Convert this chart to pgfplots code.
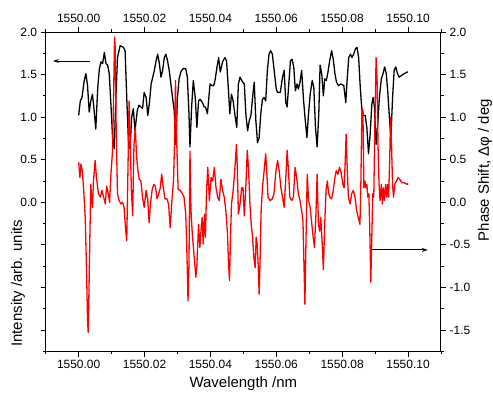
\documentclass[border=0pt]{standalone}
\usepackage{pgfplots}
\pgfplotsset{compat=1.18}
\usepackage{fontspec}
\setmainfont{Liberation Sans}
\usetikzlibrary{arrows.meta}
\begin{document}
\begin{tikzpicture}
\pgfplotsset{
 common/.style={
  scale only axis, width=395bp, height=319bp,
  xmin=1549.99, xmax=1550.11, ymin=-1.75, ymax=2,
  xtick={1550.00,1550.02,1550.04,1550.06,1550.08,1550.10},
  minor xtick={1549.99,1550.01,1550.03,1550.05,1550.07,1550.09,1550.11},
  ytick={-1.5,-1,-0.5,0,0.5,1,1.5,2},
  minor ytick={-1.75,-1.25,-0.75,-0.25,0.25,0.75,1.25,1.75},
  tick align=outside,
  major tick length=5.5bp, minor tick length=3bp,
  tick style={black, line width=0.8pt},
  axis line style={line width=1pt},
  x tick label style={/pgf/number format/.cd, fixed, fixed zerofill, precision=2, 1000 sep={}, /tikz/.cd},
  y tick label style={/pgf/number format/.cd, fixed, fixed zerofill, precision=1, /tikz/.cd},
  /pgf/number format/assume math mode=true,
  tick label style={font=\fontsize{12}{14}\selectfont},
  label style={font=\fontsize{15}{17}\selectfont},
  clip=false,
 }
}
\begin{axis}[common, name=main,
  xtick pos=left, ytick pos=left,
  yticklabels={,,,0.0,0.5,1.0,1.5,2.0},
  xlabel={Wavelength /nm},
  xlabel style={at={([yshift=-32bp]axis description cs:0.5,0)}, anchor=center},
  ylabel={Intensity /arb. units},
  ylabel style={at={([xshift=-27.7bp]axis description cs:0,0.213)}, anchor=center},
]
\addplot[black, line width=1.3pt, line join=round] coordinates {
(1550.0000,1.02)(1550.0005,1.19)(1550.0010,1.23)(1550.0017,1.43)(1550.0022,1.51)(1550.0027,1.37)(1550.0032,1.06)(1550.0037,1.19)(1550.0042,1.27)(1550.0047,1.08)(1550.0052,0.86)(1550.0058,1.35)(1550.0063,1.57)(1550.0068,1.65)(1550.0073,1.63)(1550.0078,1.76)(1550.0083,1.63)(1550.0088,1.61)(1550.0093,1.51)(1550.0098,1.15)(1550.0103,0.76)(1550.0108,0.63)(1550.0113,1.23)(1550.0118,1.70)(1550.0126,1.84)(1550.0136,1.82)(1550.0141,1.78)(1550.0146,1.23)(1550.0151,0.72)(1550.0156,0.63)(1550.0161,1.00)(1550.0166,1.10)(1550.0171,0.84)(1550.0178,1.08)(1550.0183,1.14)(1550.0189,1.12)(1550.0194,1.10)(1550.0199,1.29)(1550.0205,1.23)(1550.0210,1.02)(1550.0215,1.17)(1550.0220,1.39)(1550.0225,1.47)(1550.0230,1.55)(1550.0235,1.66)(1550.0240,1.74)(1550.0245,1.63)(1550.0250,1.47)(1550.0255,1.55)(1550.0260,1.70)(1550.0265,1.74)(1550.0270,1.66)(1550.0275,1.55)(1550.0280,1.39)(1550.0285,1.23)(1550.0290,1.08)(1550.0295,0.68)(1550.0300,1.23)(1550.0305,1.45)(1550.0310,1.53)(1550.0317,1.57)(1550.0325,1.57)(1550.0330,1.47)(1550.0335,1.04)(1550.0338,0.65)(1550.0343,1.12)(1550.0348,1.43)(1550.0354,1.23)(1550.0359,0.88)(1550.0364,1.19)(1550.0369,1.21)(1550.0376,1.17)(1550.0381,1.12)(1550.0385,1.12)(1550.0391,1.04)(1550.0399,1.39)(1550.0405,1.37)(1550.0410,1.37)(1550.0414,1.43)(1550.0420,1.59)(1550.0425,1.70)(1550.0430,1.53)(1550.0437,1.65)(1550.0444,1.70)(1550.0449,1.66)(1550.0454,1.37)(1550.0459,1.04)(1550.0464,1.27)(1550.0469,1.19)(1550.0474,1.04)(1550.0480,0.88)(1550.0485,1.39)(1550.0490,1.47)(1550.0498,1.41)(1550.0503,1.39)(1550.0508,1.02)(1550.0513,0.84)(1550.0518,0.96)(1550.0523,1.02)(1550.0528,1.23)(1550.0533,1.41)(1550.0538,0.96)(1550.0543,0.70)(1550.0548,0.76)(1550.0553,1.04)(1550.0558,1.21)(1550.0563,1.23)(1550.0568,1.19)(1550.0573,1.55)(1550.0578,1.74)(1550.0583,1.78)(1550.0588,1.74)(1550.0593,1.57)(1550.0600,1.33)(1550.0604,1.29)(1550.0612,1.29)(1550.0619,1.47)(1550.0624,1.55)(1550.0629,1.17)(1550.0633,1.12)(1550.0638,1.39)(1550.0643,1.66)(1550.0648,1.68)(1550.0653,1.59)(1550.0658,1.31)(1550.0663,1.39)(1550.0667,1.33)(1550.0672,1.41)(1550.0677,1.55)(1550.0683,1.19)(1550.0688,0.96)(1550.0693,0.76)(1550.0698,1.04)(1550.0703,1.27)(1550.0709,1.43)(1550.0714,1.35)(1550.0719,0.88)(1550.0724,0.65)(1550.0729,1.04)(1550.0733,1.61)(1550.0738,1.51)(1550.0743,1.25)(1550.0747,1.45)(1550.0752,1.43)(1550.0757,1.53)(1550.0762,1.66)(1550.0768,1.78)(1550.0773,1.68)(1550.0778,1.51)(1550.0783,1.41)(1550.0789,1.37)(1550.0796,1.39)(1550.0805,1.37)(1550.0811,1.17)(1550.0815,1.43)(1550.0820,1.70)(1550.0825,1.74)(1550.0830,1.70)(1550.0835,1.74)(1550.0840,1.80)(1550.0845,1.82)(1550.0850,1.70)(1550.0855,1.35)(1550.0860,1.08)(1550.0865,1.02)(1550.0870,1.02)(1550.0875,0.88)(1550.0880,0.57)(1550.0885,0.80)(1550.0890,1.15)(1550.0894,1.23)(1550.0898,1.12)(1550.0903,0.68)(1550.0908,0.92)(1550.0913,1.23)(1550.0919,1.45)(1550.0924,1.51)(1550.0929,1.59)(1550.0934,1.51)(1550.0939,1.27)(1550.0944,0.96)(1550.0948,0.76)(1550.0953,1.23)(1550.0958,1.55)(1550.0963,1.59)(1550.0968,1.51)(1550.0973,1.47)(1550.0980,1.49)(1550.0988,1.51)(1550.0998,1.53)(1550.1000,1.53)
};
\addplot[red, line width=1.3pt, line join=round] coordinates {
(1550.0000,0.47)(1550.0004,0.29)(1550.0007,0.45)(1550.0011,0.37)(1550.0015,0.17)(1550.0020,-0.18)(1550.0024,-0.81)(1550.0027,-1.39)(1550.0029,-1.53)(1550.0031,-1.12)(1550.0034,-0.41)(1550.0037,0.21)(1550.0039,0.06)(1550.0042,-0.06)(1550.0045,0.25)(1550.0050,0.49)(1550.0054,0.29)(1550.0060,0.10)(1550.0066,0.06)(1550.0071,0.14)(1550.0076,0.06)(1550.0081,-0.02)(1550.0085,0.19)(1550.0090,0.10)(1550.0094,0.00)(1550.0098,0.33)(1550.0103,0.61)(1550.0106,1.23)(1550.0109,1.94)(1550.0111,1.82)(1550.0114,0.84)(1550.0118,0.10)(1550.0123,0.02)(1550.0128,-0.02)(1550.0133,0.00)(1550.0138,-0.06)(1550.0143,-0.34)(1550.0146,-0.45)(1550.0150,0.45)(1550.0153,1.19)(1550.0156,0.84)(1550.0160,0.14)(1550.0164,-0.16)(1550.0168,0.68)(1550.0172,0.88)(1550.0176,0.53)(1550.0180,0.37)(1550.0184,0.27)(1550.0189,0.25)(1550.0194,0.06)(1550.0199,-0.06)(1550.0205,0.14)(1550.0210,0.02)(1550.0214,-0.24)(1550.0218,-0.02)(1550.0223,0.14)(1550.0228,0.21)(1550.0233,0.19)(1550.0238,0.04)(1550.0243,0.10)(1550.0248,0.17)(1550.0252,0.33)(1550.0257,0.17)(1550.0262,0.04)(1550.0268,0.04)(1550.0273,-0.02)(1550.0278,-0.30)(1550.0283,0.02)(1550.0288,0.25)(1550.0291,0.68)(1550.0294,1.43)(1550.0296,1.04)(1550.0298,0.68)(1550.0302,0.15)(1550.0308,0.14)(1550.0315,0.10)(1550.0320,0.06)(1550.0325,-0.14)(1550.0328,-0.49)(1550.0332,-1.16)(1550.0335,-0.73)(1550.0338,0.60)(1550.0341,-0.10)(1550.0345,-0.37)(1550.0351,-0.65)(1550.0356,-0.88)(1550.0359,-0.73)(1550.0364,-0.26)(1550.0368,-0.53)(1550.0372,-0.30)(1550.0375,-0.18)(1550.0378,-0.49)(1550.0382,-0.14)(1550.0385,-0.41)(1550.0388,0.10)(1550.0392,0.41)(1550.0397,0.02)(1550.0402,0.29)(1550.0407,0.25)(1550.0412,0.41)(1550.0417,0.17)(1550.0422,0.06)(1550.0427,0.02)(1550.0432,0.27)(1550.0437,0.14)(1550.0442,0.06)(1550.0447,-0.10)(1550.0452,-0.37)(1550.0455,-0.73)(1550.0458,-0.92)(1550.0461,-0.41)(1550.0464,-0.02)(1550.0469,0.14)(1550.0474,0.37)(1550.0479,0.68)(1550.0482,0.37)(1550.0485,-0.14)(1550.0490,-0.02)(1550.0495,0.17)(1550.0499,0.17)(1550.0503,-0.16)(1550.0507,0.14)(1550.0512,0.61)(1550.0516,0.37)(1550.0520,-0.02)(1550.0524,-0.26)(1550.0528,-0.41)(1550.0532,-0.65)(1550.0536,-0.77)(1550.0539,-0.41)(1550.0542,-0.49)(1550.0545,-0.73)(1550.0548,-1.08)(1550.0551,-0.65)(1550.0554,-0.10)(1550.0558,0.17)(1550.0563,0.37)(1550.0568,0.57)(1550.0571,0.37)(1550.0575,0.06)(1550.0581,0.02)(1550.0588,0.04)(1550.0593,0.10)(1550.0599,0.37)(1550.0604,0.49)(1550.0609,0.37)(1550.0614,0.17)(1550.0619,0.06)(1550.0624,-0.06)(1550.0629,0.29)(1550.0633,0.61)(1550.0637,0.37)(1550.0641,0.06)(1550.0647,0.02)(1550.0652,0.06)(1550.0657,0.41)(1550.0662,0.29)(1550.0667,0.10)(1550.0672,0.02)(1550.0677,-0.10)(1550.0681,-0.22)(1550.0684,-0.73)(1550.0687,-1.20)(1550.0690,-0.49)(1550.0694,0.33)(1550.0698,0.02)(1550.0703,-0.06)(1550.0707,-0.22)(1550.0712,-0.41)(1550.0716,-0.53)(1550.0720,-0.18)(1550.0724,0.33)(1550.0728,-0.26)(1550.0732,-0.34)(1550.0735,-0.18)(1550.0739,-0.45)(1550.0743,-0.79)(1550.0747,-0.26)(1550.0751,0.14)(1550.0755,0.25)(1550.0759,0.10)(1550.0763,0.06)(1550.0768,0.04)(1550.0773,0.14)(1550.0778,0.29)(1550.0782,0.37)(1550.0787,0.33)(1550.0792,0.41)(1550.0797,0.35)(1550.0802,0.21)(1550.0806,0.17)(1550.0809,0.45)(1550.0812,0.80)(1550.0815,0.45)(1550.0819,0.06)(1550.0824,-0.02)(1550.0829,0.10)(1550.0834,0.14)(1550.0839,0.06)(1550.0844,-0.10)(1550.0849,-0.18)(1550.0854,-0.26)(1550.0857,0.25)(1550.0860,1.10)(1550.0863,1.08)(1550.0866,0.17)(1550.0869,0.25)(1550.0872,0.17)(1550.0875,0.21)(1550.0878,0.06)(1550.0881,0.10)(1550.0884,-0.34)(1550.0887,-0.94)(1550.0890,-0.41)(1550.0893,0.10)(1550.0896,0.06)(1550.0899,0.84)(1550.0903,1.70)(1550.0906,1.43)(1550.0909,0.65)(1550.0912,0.21)(1550.0915,0.02)(1550.0919,0.21)(1550.0922,-0.02)(1550.0925,0.17)(1550.0928,0.02)(1550.0932,0.21)(1550.0935,0.06)(1550.0938,0.21)(1550.0941,0.06)(1550.0944,0.45)(1550.0947,1.00)(1550.0950,0.65)(1550.0953,0.21)(1550.0956,0.06)(1550.0960,0.21)(1550.0965,0.25)(1550.0970,0.29)(1550.0975,0.27)(1550.0981,0.23)(1550.0988,0.23)(1550.0998,0.21)(1550.1000,0.22)
};
\draw[line width=0.9pt, -{Stealth[length=6bp,width=4bp]}] (axis cs:1550.0033,1.66) -- (axis cs:1549.9922,1.66);
\draw[line width=0.9pt, -{Stealth[length=6bp,width=4bp]}] (axis cs:1550.0891,-0.56) -- (axis cs:1550.1060,-0.56);
\end{axis}
\begin{axis}[common,
  xtick pos=right, xticklabel pos=right,
  ytick pos=right, yticklabel pos=right,
  ylabel={Phase Shift, Δφ / deg},
  ylabel style={at={([xshift=44bp]axis description cs:1,0.567)}, anchor=center},
]
\end{axis}
\pgfresetboundingbox
\path (main.south west) ++(-45.7bp,-49bp) coordinate (bl);
\path (main.north east) ++(52bp,32bp) coordinate (tr);
\path[use as bounding box] (bl) rectangle (tr);
\end{tikzpicture}
\end{document}
